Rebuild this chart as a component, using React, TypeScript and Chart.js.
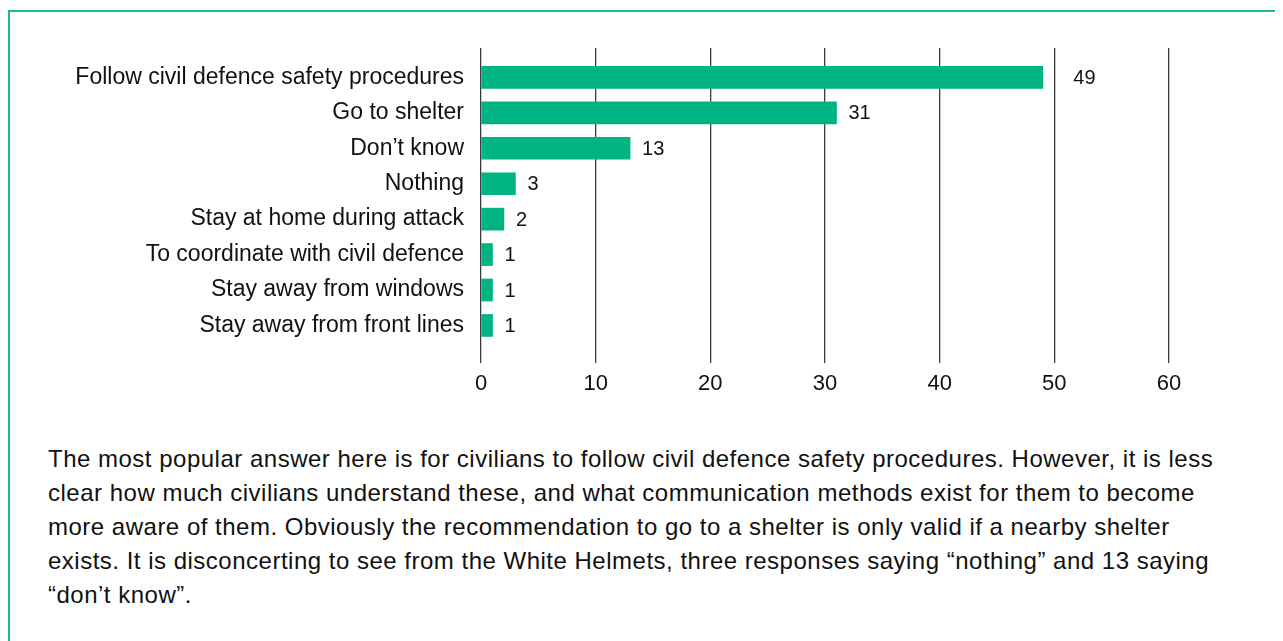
import React, { useEffect, useRef } from "react";
import { Chart, registerables } from "chart.js";

Chart.register(...registerables);

const categories = [
  "Follow civil defence safety procedures",
  "Go to shelter",
  "Don\u2019t know",
  "Nothing",
  "Stay at home during attack",
  "To coordinate with civil defence",
  "Stay away from windows",
  "Stay away from front lines",
];
const values = [49, 31, 13, 3, 2, 1, 1, 1];
const xTicks = [0, 10, 20, 30, 40, 50, 60];

const paragraphLines = [
  "The most popular answer here is for civilians to follow civil defence safety procedures. However, it is less",
  "clear how much civilians understand these, and what communication methods exist for them to become",
  "more aware of them. Obviously the recommendation to go to a shelter is only valid if a nearby shelter",
  "exists. It is disconcerting to see from the White Helmets, three responses saying \u201cnothing\u201d and 13 saying",
  "\u201cdon\u2019t know\u201d.",
];

const FONT = "'Liberation Sans', Arial, Helvetica, sans-serif";
const GREEN = "#00b383";
const BORDER_GREEN = "#1dbb8b";
const TEXT = "#111111";

const valueLabelPlugin = {
  id: "valueLabels",
  afterDatasetsDraw(chart: any) {
    const ctx = chart.ctx;
    const meta = chart.getDatasetMeta(0);
    const xScale = chart.scales.x;
    const gridPx = xTicks.map((t) => xScale.getPixelForValue(t));
    ctx.save();
    ctx.font = `20px ${FONT}`;
    ctx.fillStyle = TEXT;
    ctx.textAlign = "left";
    ctx.textBaseline = "middle";
    meta.data.forEach((bar: any, i: number) => {
      const text = String(values[i]);
      const w = ctx.measureText(text).width;
      let x = bar.x + 12;
      const hit = gridPx.find((g) => g > x - 4 && g < x + w + 4);
      if (hit !== undefined) x = hit + 19;
      ctx.fillText(text, x, bar.y + 1);
    });
    ctx.restore();
  },
};

export default function App() {
  const canvasRef = useRef<HTMLCanvasElement | null>(null);

  useEffect(() => {
    if (!canvasRef.current) return;
    const chart = new Chart(canvasRef.current, {
      type: "bar",
      data: {
        datasets: [
          {
            data: values.map((v, i) => ({ x: v, y: i })),
            backgroundColor: GREEN,
            borderWidth: 0,
            barThickness: 22,
          },
        ],
      },
      options: {
        indexAxis: "y",
        animation: false,
        responsive: false,
        maintainAspectRatio: false,
        layout: { padding: { top: 36, right: 41, left: 0, bottom: 0 } },
        plugins: {
          legend: { display: false },
          tooltip: { enabled: false },
        },
        scales: {
          x: {
            type: "linear",
            min: 0,
            max: 60,
            afterBuildTicks: (scale: any) => {
              scale.ticks = xTicks.map((v) => ({ value: v }));
            },
            afterFit: (scale: any) => {
              scale.height = 49;
            },
            grid: {
              display: true,
              color: "#3c3c3c",
              lineWidth: 1.3,
              drawTicks: false,
            },
            border: { display: false },
            ticks: {
              padding: 8,
              color: TEXT,
              font: { family: FONT, size: 22 },
              maxRotation: 0,
            },
          },
          y: {
            type: "linear",
            reverse: true,
            offset: false,
            bounds: "data",
            min: -0.83,
            max: 8.06,
            afterBuildTicks: (scale: any) => {
              scale.ticks = categories.map((_, i) => ({ value: i }));
            },
            afterFit: (scale: any) => {
              scale.width = 471;
            },
            grid: { display: false, drawTicks: false, offset: false },
            border: { display: false },
            ticks: {
              padding: 17,
              color: TEXT,
              autoSkip: false,
              font: { family: FONT, size: 23 },
              callback: (v: any) => categories[Number(v)] ?? "",
            },
          },
        },
      },
      plugins: [valueLabelPlugin],
    } as any);
    return () => chart.destroy();
  }, []);

  return (
    <div>
      <style>{`html, body { overflow: hidden; }`}</style>
      <div
        style={{
          position: "relative",
          marginTop: 2,
          width: 1300,
          height: 700,
          boxSizing: "border-box",
          border: `2px solid ${BORDER_GREEN}`,
          background: "#ffffff",
        }}
      >
        <div style={{ position: "absolute", left: 0, top: 0, width: 1200, height: 400 }}>
          <canvas ref={canvasRef} width={1200} height={400} style={{ width: 1200, height: 400 }} />
        </div>
        <div
          style={{
            position: "absolute",
            left: 38,
            top: 430,
            fontFamily: FONT,
            fontSize: 24,
            letterSpacing: "0.5px",
            lineHeight: "34px",
            color: TEXT,
            whiteSpace: "nowrap",
          }}
        >
          {paragraphLines.map((line, i) => (
            <div key={i}>{line}</div>
          ))}
        </div>
      </div>
    </div>
  );
}
